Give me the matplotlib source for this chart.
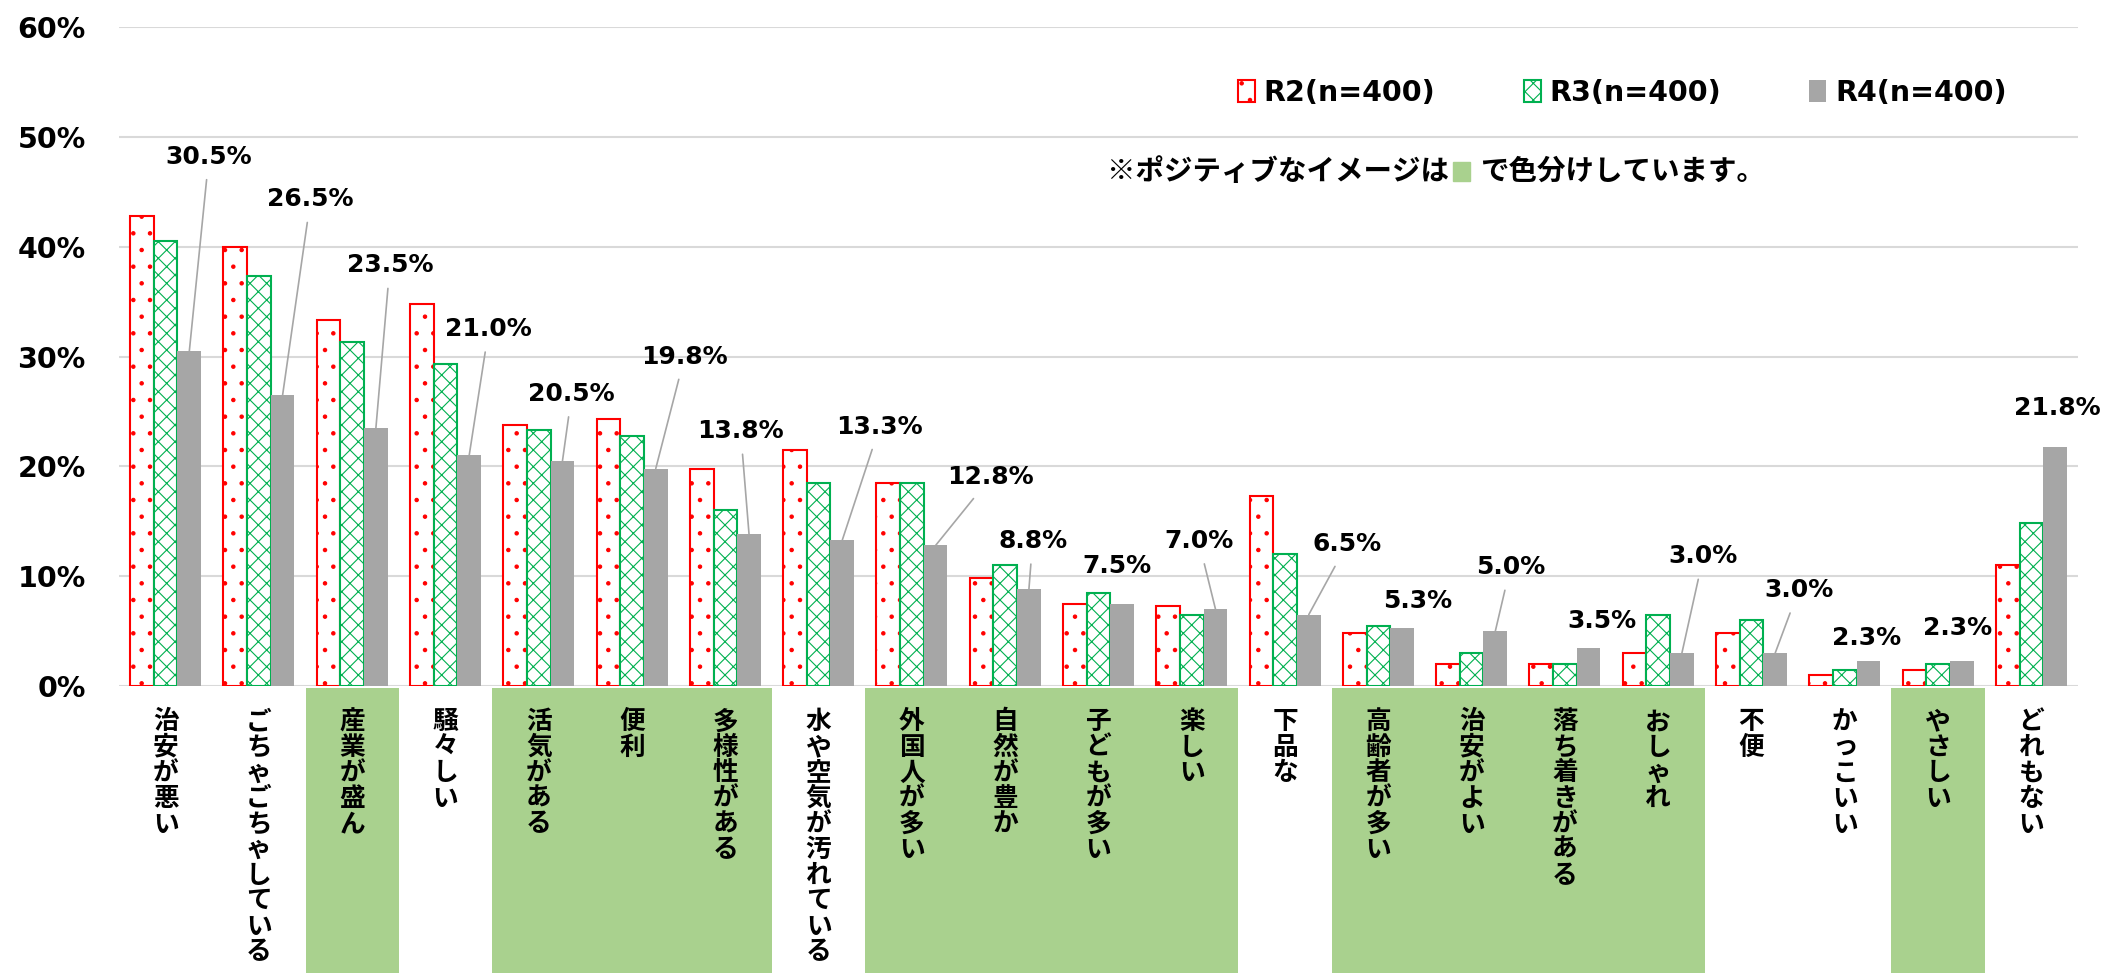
import matplotlib
matplotlib.use("Agg")
import matplotlib.pyplot as plt
from matplotlib.patches import Rectangle
import numpy as np

plt.rcParams["font.family"] = ["DejaVu Sans", "Noto Sans CJK JP"]
plt.rcParams["hatch.linewidth"] = 0.8

categories = [
    "治安が悪い", "ごちゃごちゃしている", "産業が盛ん", "騒々しい", "活気がある",
    "便利", "多様性がある", "水や空気が汚れている", "外国人が多い", "自然が豊か",
    "子どもが多い", "楽しい", "下品な", "高齢者が多い", "治安がよい",
    "落ち着きがある", "おしゃれ", "不便", "かっこいい", "やさしい", "どれもない",
]
positive = [0, 0, 1, 0, 1, 1, 1, 0, 1, 1, 1, 1, 0, 1, 1, 1, 1, 0, 0, 1, 0]

r2 = [42.8, 40.0, 33.3, 34.8, 23.8, 24.3, 19.8, 21.5, 18.5, 9.8, 7.5,
      7.3, 17.3, 4.8, 2.0, 2.0, 3.0, 4.8, 1.0, 1.5, 11.0]
r3 = [40.5, 37.3, 31.3, 29.3, 23.3, 22.8, 16.0, 18.5, 18.5, 11.0, 8.5,
      6.5, 12.0, 5.5, 3.0, 2.0, 6.5, 6.0, 1.5, 2.0, 14.8]
r4 = [30.5, 26.5, 23.5, 21.0, 20.5, 19.8, 13.8, 13.3, 12.8, 8.8, 7.5,
      7.0, 6.5, 5.3, 5.0, 3.5, 3.0, 3.0, 2.3, 2.3, 21.8]
series_names = ["R2(n=400)", "R3(n=400)", "R4(n=400)"]

# where the R4 value labels sit, relative to the bar top (category units, % points)
label_dx = [0.21, 0.30, 0.15, 0.21, 0.10, 0.31, -0.09, 0.40, 0.59, 0.04, -0.06,
            -0.18, 0.41, 0.17, 0.16, 0.14, 0.23, 0.25, -0.02, -0.04, 0.02]
label_dy = [17.7, 17.8, 14.8, 11.5, 6.1, 10.2, 9.4, 10.3, 6.2, 4.4, 3.4,
            6.2, 6.4, 2.4, 5.8, 2.4, 8.8, 5.7, 2.1, 3.0, 3.5]
leader = [1, 1, 1, 1, 1, 1, 1, 1, 1, 1, 0, 1, 1, 0, 1, 0, 1, 1, 0, 0, 0]

W, H = 2105, 973
fig = plt.figure(figsize=(W / 100, H / 100), dpi=100)
ax = fig.add_axes([119 / W, 1 - 686 / H, 1959 / W, 659 / H])

x = np.arange(len(categories))
w = 0.254
b2 = ax.bar(x - w, r2, w, facecolor="white", edgecolor="#FF0000", hatch=".", linewidth=1.5)
b3 = ax.bar(x, r3, w, facecolor="white", edgecolor="#00B050", hatch="xx", linewidth=1.5)
b4 = ax.bar(x + w, r4, w, color="#A6A6A6")

ax.set_xlim(-0.5, len(categories) - 0.5)
ax.set_ylim(0, 60)
ax.set_yticks(range(0, 61, 10))
ax.set_yticklabels([f"{v}%" for v in range(0, 61, 10)], fontsize=20.5, fontweight="bold")
ax.tick_params(axis="y", length=0, pad=24)
ax.set_xticks([])
ax.yaxis.grid(True, color="#D9D9D9", linewidth=1.5)
ax.set_axisbelow(True)
for s in ax.spines.values():
    s.set_visible(False)

tr = ax.get_xaxis_transform()
for i, cat in enumerate(categories):
    if positive[i]:
        ax.add_patch(Rectangle((i - 0.5, -0.45), 1, 0.447, transform=tr,
                               facecolor="#A9D18E", edgecolor="none", clip_on=False, zorder=0))
    ax.text(i, -0.034, "\n".join(cat), transform=tr, ha="center", va="top",
            fontsize=18.5, fontweight="bold", family=["Noto Sans CJK JP"],
            linespacing=0.93, clip_on=False)

for i, v in enumerate(r4):
    props = dict(arrowstyle="-", color="#A6A6A6", lw=1.2, shrinkA=6, shrinkB=0) if leader[i] else None
    ax.annotate(f"{v:.1f}%", xy=(i + w, v), xytext=(i + w + label_dx[i], v + label_dy[i]),
                ha="center", va="center", fontsize=18, fontweight="bold",
                arrowprops=props, annotation_clip=False)

ax.legend([b2, b3, b4], series_names, loc="center left",
          bbox_to_anchor=(1238 / W, 1 - 93 / H), bbox_transform=fig.transFigure,
          ncol=3, frameon=False, prop=dict(size=20.5, weight="bold"),
          handlelength=0.6, handleheight=0.8, handletextpad=0.3,
          columnspacing=3.1, borderpad=0, borderaxespad=0)

fig.text(1449 / W, 1 - 172 / H, "※ポジティブなイメージは", ha="right", va="center",
         fontsize=20.5, fontweight="bold", family=["Noto Sans CJK JP"])
fig.add_artist(Rectangle((1453 / W, 1 - 181 / H), 17 / W, 19 / H,
                         transform=fig.transFigure, color="#A9D18E"))
fig.text(1480 / W, 1 - 172 / H, "で色分けしています。", ha="left", va="center",
         fontsize=20.5, fontweight="bold", family=["Noto Sans CJK JP"])

fig.savefig("out.png", dpi=100)
